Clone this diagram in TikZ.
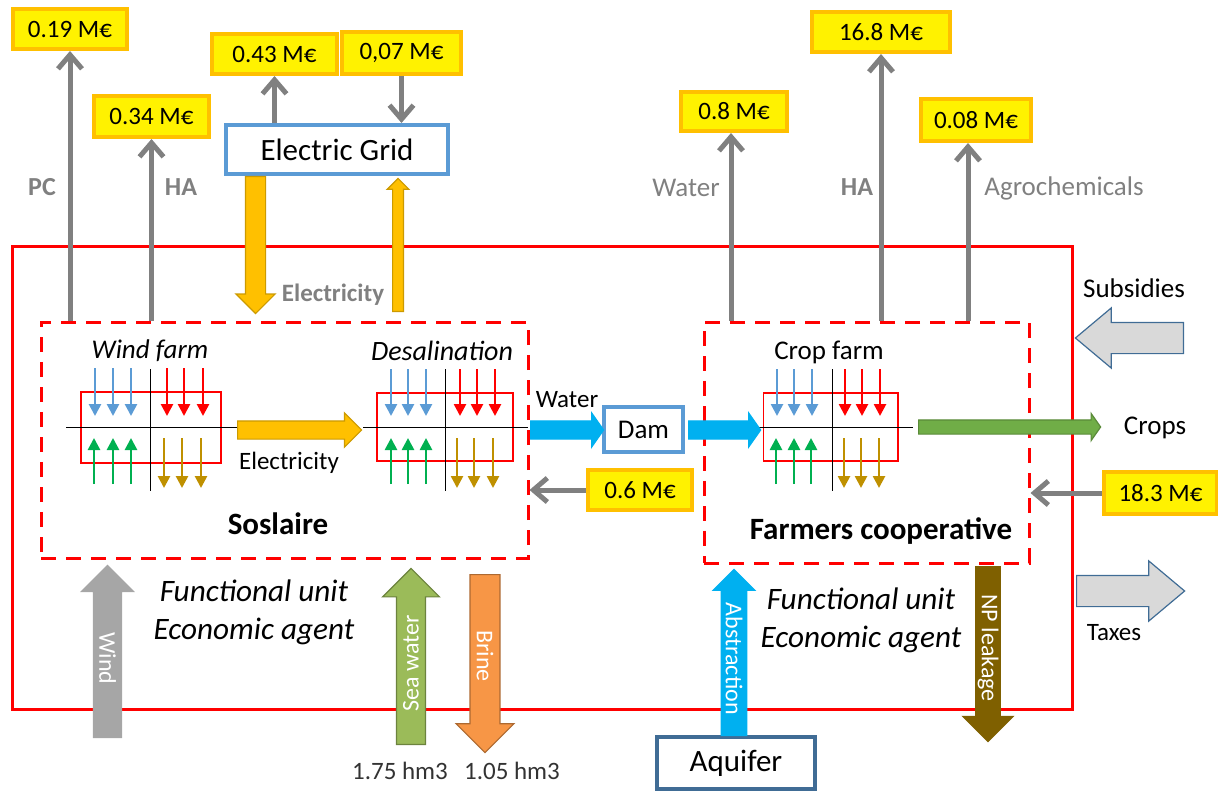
\documentclass[tikz,border=0pt]{standalone}
\usepackage{fontspec}
\setmainfont{Carlito}
\usetikzlibrary{shapes.arrows, arrows.meta}
\definecolor{amber}{HTML}{FFC000}
\definecolor{skyblue}{HTML}{00B0F0}
\definecolor{steel}{HTML}{5B9BD5}
\definecolor{flowgreen}{HTML}{00B050}
\definecolor{flowbrown}{HTML}{BF9000}
\definecolor{cropgreen}{HTML}{70AD47}
\definecolor{seagreen}{HTML}{9BBB59}
\definecolor{brineorange}{HTML}{F79646}
\definecolor{leakbrown}{HTML}{7F6000}
\tikzstyle{big} = [font=\fontsize{15.5}{18}\selectfont]
\tikzstyle{mid} = [font=\fontsize{13.5}{16}\selectfont]
\tikzstyle{small} = [font=\fontsize{12.5}{15}\selectfont]
\tikzstyle{money} = [rectangle, draw=amber, fill=yellow, line width=2pt, inner sep=0pt, font=\fontsize{12.5}{15}\selectfont]
\tikzstyle{unit} = [rectangle, draw=red, dashed, dash pattern=on 7.5pt off 5pt, line width=1.5pt, inner sep=0pt]
\tikzstyle{place} = [rectangle, draw=steel, fill=white, line width=2pt, inner sep=0pt]
\tikzstyle{matrixbox} = [rectangle, draw=red, line width=0.7pt, inner sep=0pt]
\tikzstyle{block} = [single arrow, inner xsep=0pt, single arrow head indent=0pt, anchor=tail, line width=0.6pt, text=white, font=\fontsize{12}{14}\selectfont]
\tikzstyle{arrow} = [draw=black!50, line width=2.5pt, -{Straight Barb[length=7pt, width=12pt]}]
\tikzstyle{axis} = [black, line width=0.5pt]
\tikzstyle{flow} = [line width=1.3pt, -{Triangle[length=6pt, width=6pt]}]
\newcommand{\flowarrows}[4]{\foreach \x in {#2} {\coordinate (flowa) at (\x,#3); \coordinate (flowb) at (\x,#4); \draw [flow, #1] (flowa) -- (flowb);}}
\begin{document}
\begin{tikzpicture}[x=0.5pt, y=-0.5pt]
    \useasboundingbox (0,0) rectangle (1218,791);
    \node (system) [rectangle, draw=red, line width=1.5pt, minimum width=530pt, minimum height=231.5pt] at (542,477.5) {};
    \node (soslaire) [unit, minimum width=243.5pt, minimum height=118pt] at (284.5,440) {};
    \node (farmers) [unit, minimum width=162.5pt, minimum height=120.5pt] at (866.5,442.5) {};
    % money boxes
    \node (pc) [money, minimum width=57pt, minimum height=20pt] at (70,29) {0.19 M€};
    \node (hawind) [money, minimum width=57.5pt, minimum height=20.5pt] at (151.5,116.5) {0.34 M€};
    \node (gridout) [money, minimum width=62.5pt, minimum height=20pt] at (274.5,54) {0.43 M€};
    \node (gridin) [money, minimum width=59.5pt, minimum height=21pt] at (401.5,53) {0,07 M€};
    \node (watercost) [money, minimum width=53pt, minimum height=19.5pt] at (734,111.5) {0.8 M€};
    \node (hacrop) [money, minimum width=69pt, minimum height=20pt] at (881,32) {16.8 M€};
    \node (agro) [money, minimum width=55pt, minimum height=21pt] at (976,120) {0.08 M€};
    \node (waterprice) [money, minimum width=52pt, minimum height=20pt] at (640,490) {0.6 M€};
    \node (cropprice) [money, minimum width=56.5pt, minimum height=21pt] at (1160.5,493) {18.3 M€};
    % places
    \node (grid) [place, big, minimum width=111pt, minimum height=24.5pt] at (337,149.5) {Electric Grid};
    \node (dam) [place, mid, minimum width=39.5pt, minimum height=22.5pt] at (643.5,429.5) {Dam};
    \node (aquifer) [place, big, draw=steel!70!black, minimum width=79pt, minimum height=26pt] at (736,763) {Aquifer};
    % matrices
    \node (windm) [matrixbox, minimum width=70pt, minimum height=35.5pt] at (151,427.5) {};
    \node (desalm) [matrixbox, minimum width=68pt, minimum height=34pt] at (445,427) {};
    \node (cropm) [matrixbox, minimum width=67.25pt, minimum height=34pt] at (830.75,427) {};
    \foreach \nm/\xa/\xb/\xc in {windm/66/237/150, desalm/363/528/445, cropm/748/913/832} {
        \coordinate (\nm w) at (\xa,427);
        \coordinate (\nm e) at (\xb,427);
        \coordinate (\nm n) at (\xc,369);
        \coordinate (\nm s) at (\xc,491);
        \draw [axis] (\nm w) -- (\nm e);
        \draw [axis] (\nm n) -- (\nm s);
    }
    \flowarrows{steel}{95,113,131}{368}{416}
    \flowarrows{red}{167,184,203}{368}{416}
    \flowarrows{flowgreen}{94,113,131}{484}{438}
    \flowarrows{flowbrown}{164,182,201}{438}{488}
    \flowarrows{steel}{391,408,426}{369}{416}
    \flowarrows{red}{460,477,495}{369}{416}
    \flowarrows{flowgreen}{391,408,426}{484}{438}
    \flowarrows{flowbrown}{457,474,493}{438}{488}
    \flowarrows{steel}{777,794,812}{369}{416}
    \flowarrows{red}{845,862,880}{369}{416}
    \flowarrows{flowgreen}{776,794,811}{484}{438}
    \flowarrows{flowbrown}{844,861,879}{438}{488}
    % block arrows
    \node (griddown) [block, fill=amber, draw=amber!80!black, rotate=-90, inner ysep=4.75pt, minimum height=68.5pt, minimum width=19pt, single arrow head extend=4.75pt] at (255.5,176) {};
    \node (gridup) [block, fill=amber, draw=amber!80!black, rotate=90, inner ysep=2.4pt, minimum height=66.5pt, minimum width=10.5pt, single arrow head extend=2.75pt] at (398,312) {};
    \node (elecflow) [block, fill=amber, draw=amber!80!black, inner ysep=4.25pt, minimum height=62pt, minimum width=16.5pt, single arrow head extend=4pt] at (237,430) {};
    \node (waterin) [block, fill=skyblue, draw=skyblue, inner ysep=4.25pt, minimum height=36.5pt, minimum width=16.5pt, single arrow head extend=4pt, single arrow tip angle=110] at (530,430) {};
    \node (waterout) [block, fill=skyblue, draw=skyblue, inner ysep=4.25pt, minimum height=36pt, minimum width=16.5pt, single arrow head extend=4pt, single arrow tip angle=110] at (688,430) {};
    \node (cropflow) [block, fill=cropgreen, draw=cropgreen!80!black, inner ysep=3.25pt, minimum height=91pt, minimum width=13pt, single arrow head extend=3.25pt, single arrow tip angle=110] at (918,427) {};
    \node (windin) [block, fill=black!35, draw=black!35, rotate=-90, shape border rotate=180, inner ysep=2.5pt, minimum height=86pt, minimum width=24pt, single arrow head extend=6pt] at (107.5,738) {Wind};
    \node (seain) [block, fill=seagreen, draw=seagreen!70!black, rotate=90, inner ysep=3pt, minimum height=88pt, minimum width=28pt, single arrow head extend=7pt] at (411,745) {Sea water};
    \node (brineout) [block, fill=brineorange, draw=brineorange!70!black, rotate=-90, inner ysep=3pt, minimum height=89pt, minimum width=28.5pt, single arrow head extend=7pt] at (485,574) {Brine};
    \node (abstr) [block, fill=skyblue, draw=skyblue, rotate=-90, shape border rotate=180, inner ysep=1.9pt, minimum height=83pt, minimum width=19pt, single arrow head extend=4pt] at (734,736) {Abstraction};
    \node (npout) [block, fill=leakbrown, draw=leakbrown, rotate=-90, inner ysep=0.6pt, minimum height=87.5pt, minimum width=25pt, single arrow head extend=6.5pt] at (988,566) {NP leakage};
    \node (subs) [block, fill=black!15, draw=steel!70!black, shape border rotate=180, inner ysep=7.5pt, minimum height=54pt, minimum width=29.5pt, single arrow head extend=7.25pt, single arrow tip angle=80] at (1184,338) {};
    \node (taxes) [block, fill=black!15, draw=steel!70!black, inner ysep=7.5pt, minimum height=54pt, minimum width=29.5pt, single arrow head extend=7.25pt, single arrow tip angle=80] at (1076,591) {};
    % connectors
    \draw [arrow] (pc.south |- soslaire.north) -- (pc.south);
    \draw [arrow] (hawind.south |- soslaire.north) -- (hawind.south);
    \draw [arrow] (grid.north -| gridout.south) -- (gridout.south);
    \draw [arrow] (gridin.south) -- (grid.north -| gridin.south);
    \draw [arrow] ([xshift=-1.5pt]watercost.south |- farmers.north) -- ([xshift=-1.5pt]watercost.south);
    \draw [arrow] (hacrop.south |- farmers.north) -- (hacrop.south);
    \draw [arrow] ([xshift=-4pt]agro.south |- farmers.north) -- ([xshift=-4pt]agro.south);
    \draw [arrow] (waterprice.west) -- (soslaire.east |- waterprice.west);
    \draw [arrow] (cropprice.west) -- (farmers.east |- cropprice.west);
    % labels
    \node (pclabel) [font=\fontsize{13}{15}\selectfont, text=black!50] at (42,187) {\textbf{PC}};
    \node (halabel) [font=\fontsize{13}{15}\selectfont, text=black!50] at (181,187) {\textbf{HA}};
    \node (elecgray) [small, text=black!50] at (333,295) {\textbf{Electricity}};
    \node (waterlabel) [mid, text=black!50] at (686,188) {Water};
    \node (hacroplabel) [font=\fontsize{13}{15}\selectfont, text=black!50] at (857,187) {\textbf{HA}};
    \node (agrolabel) [mid, text=black!50] at (1064,188) {Agrochemicals};
    \node (subslabel) [mid] at (1134,288) {Subsidies};
    \node (taxeslabel) [small] at (1114,633) {Taxes};
    \node (cropslabel) [mid] at (1155,428) {Crops};
    \node (waterdam) [small] at (567,400) {Water};
    \node (eleclabel) [small] at (289,463) {Electricity};
    \node (windlabel) [mid] at (150,351) {\textit{Wind farm}};
    \node (desallabel) [mid, font=\fontsize{14}{16}\selectfont] at (442,351) {\textit{Desalination}};
    \node (croplabel) [mid] at (829,352) {Crop farm};
    \node (soslabel) [big] at (278,524) {\textbf{Soslaire}};
    \node (farmlabel) [big] at (881,531) {\textbf{Farmers cooperative}};
    \node (agenta) [big, align=center, font=\fontsize{15.6}{19}\selectfont\itshape] at (254,612) {Functional unit\\Economic agent};
    \node (agentb) [big, align=center, font=\fontsize{15.6}{19}\selectfont\itshape] at (861,620) {Functional unit\\Economic agent};
    \node (sealabel) [small, text=black!80] at (400,771) {1.75 hm3};
    \node (brinelabel) [small, text=black!80] at (512,771) {1.05 hm3};
\end{tikzpicture}
\end{document}
